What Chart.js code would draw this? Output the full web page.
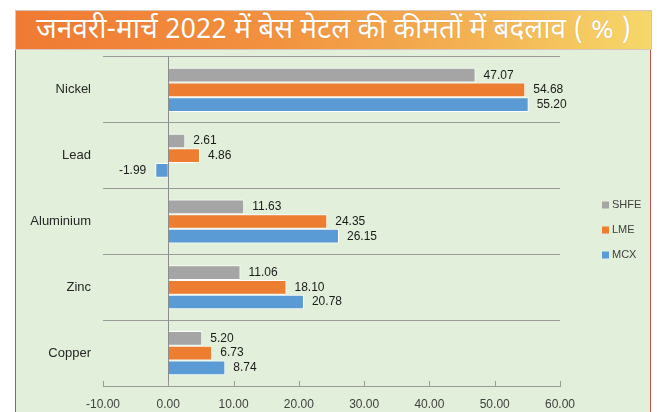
<!DOCTYPE html>
<html>
<head>
<meta charset="utf-8">
<script src="https://cdn.jsdelivr.net/npm/chart.js@4.4.1/dist/chart.umd.min.js"></script>
<style>
  html, body { margin: 0; padding: 0; background: #ffffff; width: 657px; height: 412px; overflow: hidden; }
  #banner {
    position: absolute; left: 15px; top: 10px; width: 635px; height: 38px;
    border: 1px solid #d9c6bb;
    background: linear-gradient(to right, #f07a33 0%, #f2913f 40%, #f4b555 75%, #f6d86a 100%);
    color: #ffffff; text-align: center; line-height: 40px;
    font-family: "Noto Sans Devanagari", "Lohit Devanagari", "Mangal", "Noto Sans", "DejaVu Sans", sans-serif;
    font-size: 28px; white-space: nowrap;
    text-shadow: 0 0 1px rgba(120,60,20,0.3);
  }
  #panel {
    position: absolute; left: 15px; top: 50px; width: 634px; height: 362px;
    background: #e2efda; border-left: 1px solid #c0504d; border-right: 1px solid #c0504d;
  }
  canvas { display: block; }
</style>
</head>
<body>
<div id="banner">जनवरी-मार्च 2022 में बेस मेटल की कीमतों में बदलाव ( % )</div>
<div id="panel"><canvas id="c" width="634" height="362"></canvas></div>
<script>
const categories = ["Nickel", "Lead", "Aluminium", "Zinc", "Copper"];
const seriesNames = ["SHFE", "LME", "MCX"];
const shfe = [47.07, 2.61, 11.63, 11.06, 5.20];
const lme  = [54.68, 4.86, 24.35, 18.10, 6.73];
const mcx  = [55.20, -1.99, 26.15, 20.78, 8.74];
const xTicks = [-10, 0, 10, 20, 30, 40, 50, 60];

const colors = ["#a5a5a5", "#ed7d31", "#5b9bd5"];
const FONT = "'Liberation Sans', Arial, sans-serif";

const valueLabels = {
  id: "valueLabels",
  afterDatasetsDraw(chart) {
    const ctx = chart.ctx;
    ctx.save();
    ctx.font = "12px " + FONT;
    ctx.fillStyle = "#1a1a1a";
    ctx.textBaseline = "middle";
    chart.data.datasets.forEach((ds, di) => {
      const meta = chart.getDatasetMeta(di);
      meta.data.forEach((el, i) => {
        const v = ds.data[i];
        const txt = v.toFixed(2);
        if (v >= 0) { ctx.textAlign = "left"; ctx.fillText(txt, el.x + 8, el.y); }
        else { ctx.textAlign = "right"; ctx.fillText(txt, el.x - 9, el.y); }
      });
    });
    ctx.restore();
  }
};

const axisMarks = {
  id: "axisMarks",
  afterDraw(chart) {
    const ctx = chart.ctx;
    const xs = chart.scales.x;
    const bottom = chart.chartArea.bottom;
    ctx.save();
    ctx.strokeStyle = "#9a9a9a";
    ctx.lineWidth = 1;
    xTicks.forEach(t => {
      const px = Math.round(xs.getPixelForValue(t)) + 0.5;
      ctx.beginPath();
      ctx.moveTo(px, bottom);
      ctx.lineTo(px, bottom - 5);
      ctx.stroke();
    });
    ctx.restore();
  }
};

const sideLegend = {
  id: "sideLegend",
  afterDraw(chart) {
    const ctx = chart.ctx;
    const ca = chart.chartArea;
    ctx.save();
    ctx.font = "11px " + FONT;
    ctx.textBaseline = "middle";
    ctx.textAlign = "left";
    chart.data.datasets.forEach((ds, i) => {
      const x = ca.right + 42;
      const y = ca.top + 148 + i * 25;
      ctx.fillStyle = ds.backgroundColor;
      ctx.fillRect(x, y - 3.5, 7, 7);
      ctx.fillStyle = "#404040";
      ctx.fillText(ds.label, x + 10, y);
    });
    ctx.restore();
  }
};

new Chart(document.getElementById("c"), {
  type: "bar",
  data: {
    labels: categories,
    datasets: [
      { label: seriesNames[0], data: shfe, backgroundColor: colors[0] },
      { label: seriesNames[1], data: lme, backgroundColor: colors[1] },
      { label: seriesNames[2], data: mcx, backgroundColor: colors[2] }
    ].map(d => Object.assign(d, { borderColor: "#ffffff", borderWidth: 1, categoryPercentage: 0.67, barPercentage: 1.0 }))
  },
  options: {
    indexAxis: "y",
    responsive: false,
    animation: false,
    devicePixelRatio: 1,
    layout: { padding: { top: 7, right: 90, left: 0, bottom: 0 } },
    plugins: { legend: { display: false }, tooltip: { enabled: false } },
    scales: {
      x: {
        min: -10, max: 60,
        afterBuildTicks: (s) => { s.ticks = xTicks.map(v => ({ value: v })); },
        afterFit: (s) => { s.height = 26; },
        ticks: {
          padding: 11, color: "#404040", font: { family: FONT, size: 12 },
          callback: (v) => Number(v).toFixed(2)
        },
        grid: {
          drawTicks: false,
          color: (c) => (c.tick && c.tick.value === 0) ? "#8c8c8c" : "rgba(0,0,0,0)",
          lineWidth: 1
        },
        border: { display: true, color: "#9a9a9a", width: 1 }
      },
      y: {
        afterFit: (s) => { s.width = 87; s.paddingTop = 0; s.paddingBottom = 0; },
        ticks: { padding: 12, color: "#262626", font: { family: FONT, size: 13 } },
        grid: { drawTicks: false, color: "#9a9a9a", lineWidth: 1 },
        border: { display: false }
      }
    }
  },
  plugins: [valueLabels, axisMarks, sideLegend]
});
</script>
</body>
</html>
